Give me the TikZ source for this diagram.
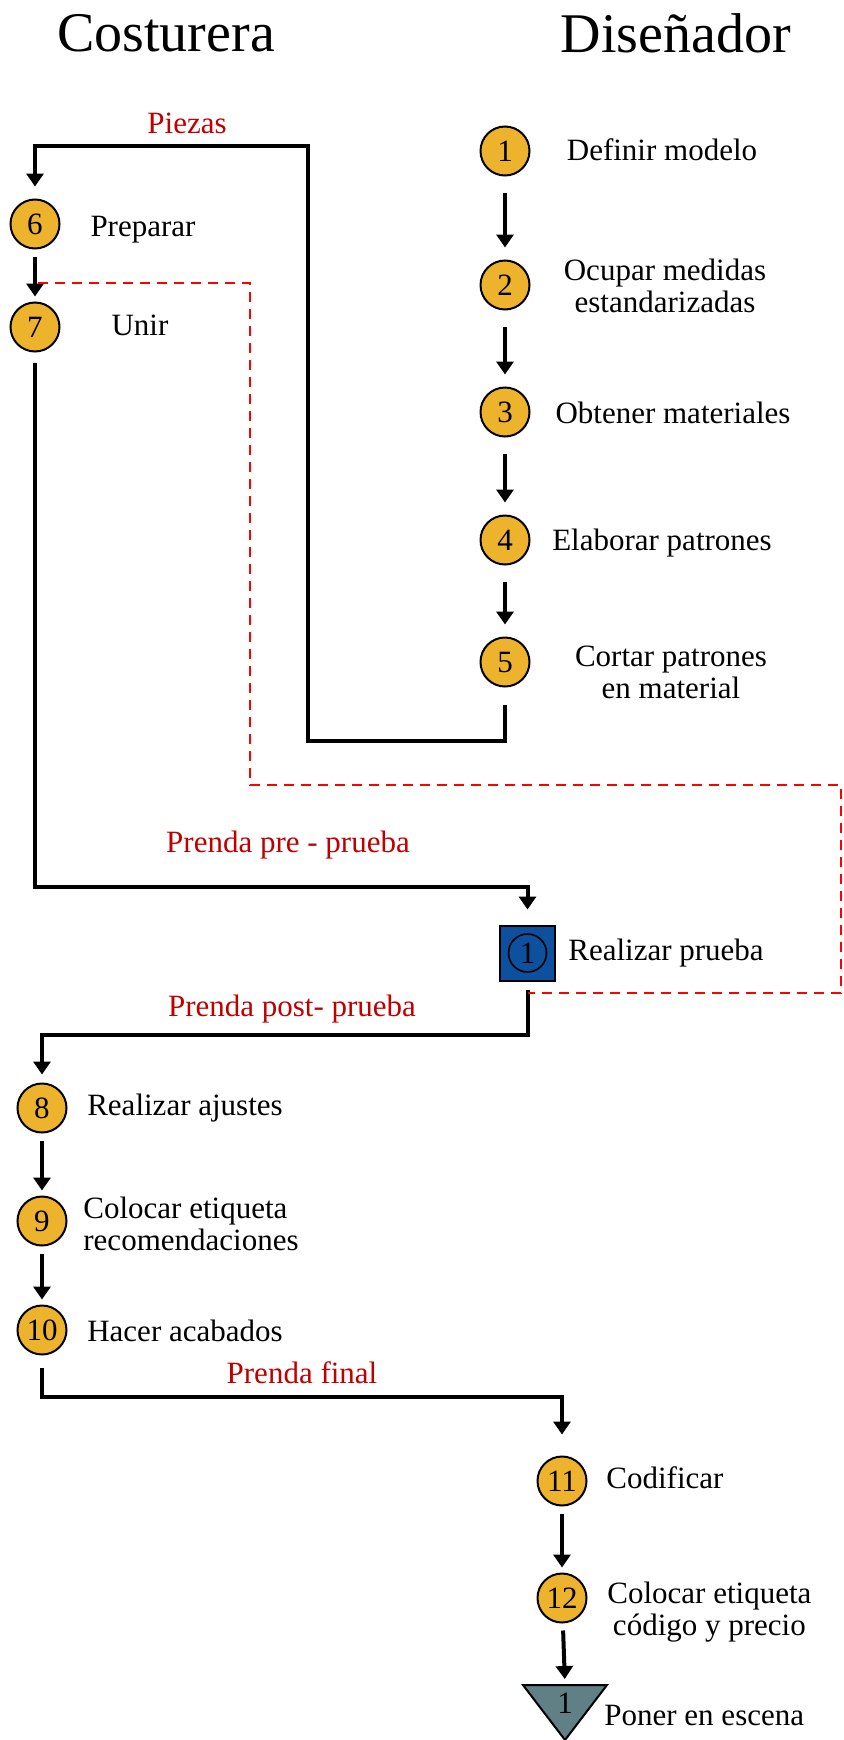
\documentclass[tikz,border=0pt]{standalone}
\usepackage{fontspec}
\setmainfont{Liberation Serif}
\usepackage{tikz}
\usetikzlibrary{positioning,arrows.meta}
\definecolor{pasogold}{RGB}{237,179,45}
\definecolor{pruebablue}{RGB}{12,80,158}
\definecolor{escenagray}{RGB}{96,128,133}
\definecolor{flujored}{RGB}{192,0,0}
\newcommand{\txtsz}{\fontsize{15.5}{16}\selectfont}
\newcommand{\numsz}{\fontsize{15.5}{15.5}\selectfont}
\newcommand{\titsz}{\fontsize{28}{30}\selectfont}
\tikzset{
  paso/.style={circle,draw=black,line width=1pt,fill=pasogold,minimum size=24.5pt,inner sep=0pt,font=\numsz},
  prueba/.style={draw=black,line width=1pt,fill=pruebablue,minimum size=27.5pt,inner sep=0pt},
  texto/.style={font=\txtsz,align=center,inner sep=0pt},
  etiqueta/.style={font=\txtsz,text=flujored,inner sep=0pt},
  flecha/.style={line width=2pt,-{Triangle[width=8.5pt,length=6.5pt]}},
  retorno/.style={draw=red,line width=1.1pt,dash pattern=on 5pt off 3.5pt},
}

\begin{document}
\begin{tikzpicture}[x=0.5pt,y=-0.5pt]
  \useasboundingbox (0,0) rectangle (844,1740);
  \node[font=\titsz] (costurera) at (166,33) {Costurera};
  \node[font=\titsz] (disenador) at (676,33) {Diseñador};

  % disenador
  \foreach \n/\y/\tx/\ty/\lbl in {1/151/662/150/{Definir modelo},2/285/665/286/{Ocupar medidas\\estandarizadas},3/412/673/413/{Obtener materiales},4/540/662/543/{Elaborar patrones},5/662/671/672/{Cortar patrones\\en material}}{
    \node[paso] (p\n) at (505,\y) {\n};
    \node[texto] (t\n) at (\tx,\ty) {\lbl};
  }
  \foreach \a/\b in {p1/p2,p2/p3,p3/p4,p4/p5}
    \draw[flecha,shorten <=8pt,shorten >=6pt] (\a) -- (\b);

  % costurera
  \foreach \n/\x/\y/\tx/\ty/\lbl in {6/35/224/143/230/Preparar,7/35/327/140/325/Unir,8/42/1108/185/1108/{Realizar ajustes},10/42/1330/185/1331/{Hacer acabados}}{
    \node[paso] (p\n) at (\x,\y) {\n};
    \node[texto] (t\n) at (\tx,\ty) {\lbl};
  }
  \node[paso] (p9) at (42,1221) {9};
  \node[texto,align=left,anchor=west] (t9) at (83,1224) {Colocar etiqueta\\recomendaciones};
  \node[paso] (p11) at (562,1481) {11};
  \node[texto,anchor=west] (t11) at (606,1478) {Codificar};
  \node[paso] (p12) at (562,1598) {12};
  \node[texto,anchor=west] (t12) at (607,1612) {Colocar etiqueta\\código y precio};
  \foreach \a/\b in {p6/p7,p8/p9,p9/p10,p11/p12}
    \draw[flecha,shorten <=3.5pt,shorten >=2.5pt] (\a) -- (\b);

  % prueba
  \node[prueba] (q1) at (527.5,953) {};
  \node[circle,draw=black,line width=0.8pt,minimum size=19pt,inner sep=0pt,font=\numsz] (q1n) at (q1) {1};
  \node[texto] (tq) at (666,953) {Realizar prueba};

  % escena
  \coordinate (esc) at (565,1685);
  \draw[line width=1pt,fill=escenagray] (523,1685) -- (607,1685) -- (565,1740) -- cycle;
  \node[font=\numsz,inner sep=0pt] (esc1) at (565,1703) {1};
  \node[texto,anchor=west] (tesc) at (604,1715) {Poner en escena};
  \draw[flecha,shorten <=3.5pt,shorten >=3pt] (p12) -- (esc);

  % piezas
  \coordinate (pz1) at (308,741);
  \coordinate (pz2) at (308,146);
  \draw[flecha,shorten <=8.5pt,shorten >=6pt] (p5) |- (pz1) -- (pz2) -| (p6);
  \node[etiqueta] (lpiezas) at (187,123) {Piezas};

  % pre - prueba
  \coordinate (pp) at (35,887);
  \draw[flecha,shorten <=5pt,shorten >=7.5pt] (p7) -- (pp) -| (q1);
  \node[etiqueta] (lpre) at (288,845) {Prenda pre - prueba};

  % post- prueba
  \coordinate (pq) at (527.5,1035);
  \draw[flecha,shorten <=4pt,shorten >=4pt] (q1) -- (pq) -| (p8);
  \node[etiqueta] (lpost) at (292,1009) {Prenda post- prueba};

  % final
  \coordinate (pf) at (42,1397);
  \draw[flecha,shorten <=6pt,shorten >=10.5pt] (p10) -- (pf) -| (p11);
  \node[etiqueta] (lfinal) at (302,1373) {Prenda final};

  % retorno
  \coordinate (ra) at (38,283);
  \coordinate (rb) at (527.5,993);
  \draw[retorno] (ra) -- (250,283) -- (250,785) -- (841,785) -- (841,993) -- (rb);
\end{tikzpicture}
\end{document}
